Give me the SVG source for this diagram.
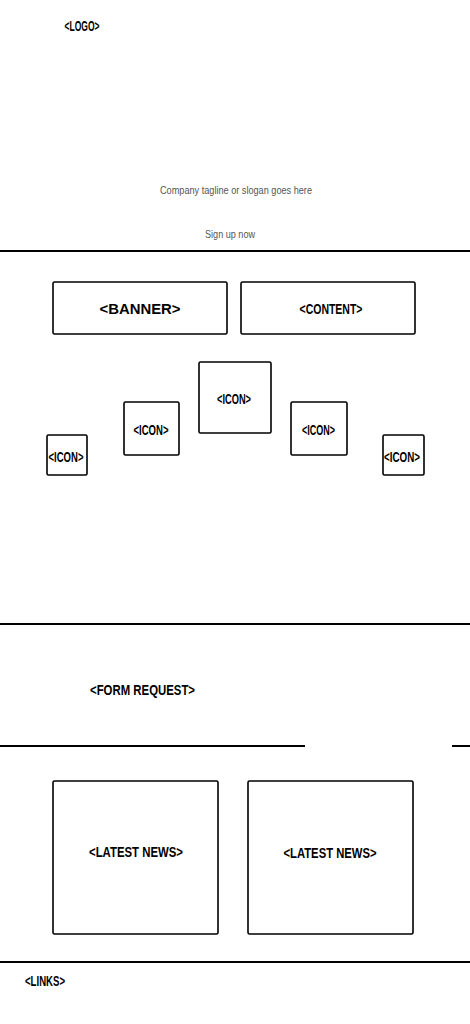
<svg xmlns="http://www.w3.org/2000/svg" width="470" height="1024" viewBox="0 0 470 1024">
<style>
.bg{fill:#ffffff}
.box{fill:#ffffff;stroke:#000000;stroke-width:1.6}
.rule{stroke:#000000;stroke-width:2;fill:none}
.lbl{font-family:"Liberation Sans","DejaVu Sans",sans-serif;font-weight:bold;font-size:15px;fill:#000000;text-anchor:middle;dominant-baseline:central}
.tag{font-family:"Liberation Sans","DejaVu Sans",sans-serif;font-size:11px;fill:#555555;text-anchor:middle;dominant-baseline:central}
</style>
<rect class="bg" x="0" y="0" width="470" height="1024"/>
<g id="logo">
<text class="lbl" x="82" y="25" textLength="35" lengthAdjust="spacingAndGlyphs">&lt;LOGO&gt;</text>
</g>
<g id="tagline">
<text class="tag" x="236" y="190" textLength="152" lengthAdjust="spacingAndGlyphs">Company tagline or slogan goes here</text>
<text class="tag" x="230" y="234" textLength="50" lengthAdjust="spacingAndGlyphs">Sign up now</text>
</g>
<g id="dividers">
<line class="rule" x1="0" y1="251" x2="470" y2="251"/>
<line class="rule" x1="0" y1="624" x2="470" y2="624"/>
<line class="rule" x1="0" y1="746" x2="305" y2="746"/>
<line class="rule" x1="452" y1="746" x2="470" y2="746"/>
<line class="rule" x1="0" y1="962" x2="470" y2="962"/>
</g>
<g id="banner">
<rect class="box" x="53" y="282" width="174" height="52" rx="1.5"/>
<text class="lbl" x="140" y="308" textLength="81" lengthAdjust="spacingAndGlyphs">&lt;BANNER&gt;</text>
</g>
<g id="content">
<rect class="box" x="241" y="282" width="174" height="52" rx="1.5"/>
<text class="lbl" x="331" y="308" textLength="63" lengthAdjust="spacingAndGlyphs">&lt;CONTENT&gt;</text>
</g>
<g id="icon-center">
<rect class="box" x="199" y="362" width="72" height="71" rx="1.5"/>
<text class="lbl" x="234" y="398" textLength="34" lengthAdjust="spacingAndGlyphs">&lt;ICON&gt;</text>
</g>
<g id="icon-left">
<rect class="box" x="124" y="402" width="55" height="53" rx="1.5"/>
<text class="lbl" x="151" y="429" textLength="35" lengthAdjust="spacingAndGlyphs">&lt;ICON&gt;</text>
</g>
<g id="icon-right">
<rect class="box" x="291" y="402" width="56" height="53" rx="1.5"/>
<text class="lbl" x="318.5" y="429" textLength="33" lengthAdjust="spacingAndGlyphs">&lt;ICON&gt;</text>
</g>
<g id="icon-far-left">
<rect class="box" x="47" y="435" width="40" height="40" rx="1.5"/>
<text class="lbl" x="66" y="456" textLength="35" lengthAdjust="spacingAndGlyphs">&lt;ICON&gt;</text>
</g>
<g id="icon-far-right">
<rect class="box" x="383" y="435" width="41" height="40" rx="1.5"/>
<text class="lbl" x="402" y="456" textLength="36" lengthAdjust="spacingAndGlyphs">&lt;ICON&gt;</text>
</g>
<g id="form-request">
<text class="lbl" x="142.5" y="689" textLength="105" lengthAdjust="spacingAndGlyphs">&lt;FORM REQUEST&gt;</text>
</g>
<g id="news-left">
<rect class="box" x="53" y="781" width="165" height="153" rx="1.5"/>
<text class="lbl" x="136" y="851" textLength="94" lengthAdjust="spacingAndGlyphs">&lt;LATEST NEWS&gt;</text>
</g>
<g id="news-right">
<rect class="box" x="248" y="781" width="165" height="153" rx="1.5"/>
<text class="lbl" x="330" y="852" textLength="93" lengthAdjust="spacingAndGlyphs">&lt;LATEST NEWS&gt;</text>
</g>
<g id="links">
<text class="lbl" x="45" y="980" textLength="40" lengthAdjust="spacingAndGlyphs">&lt;LINKS&gt;</text>
</g>
<g id="connectors"></g>
</svg>
